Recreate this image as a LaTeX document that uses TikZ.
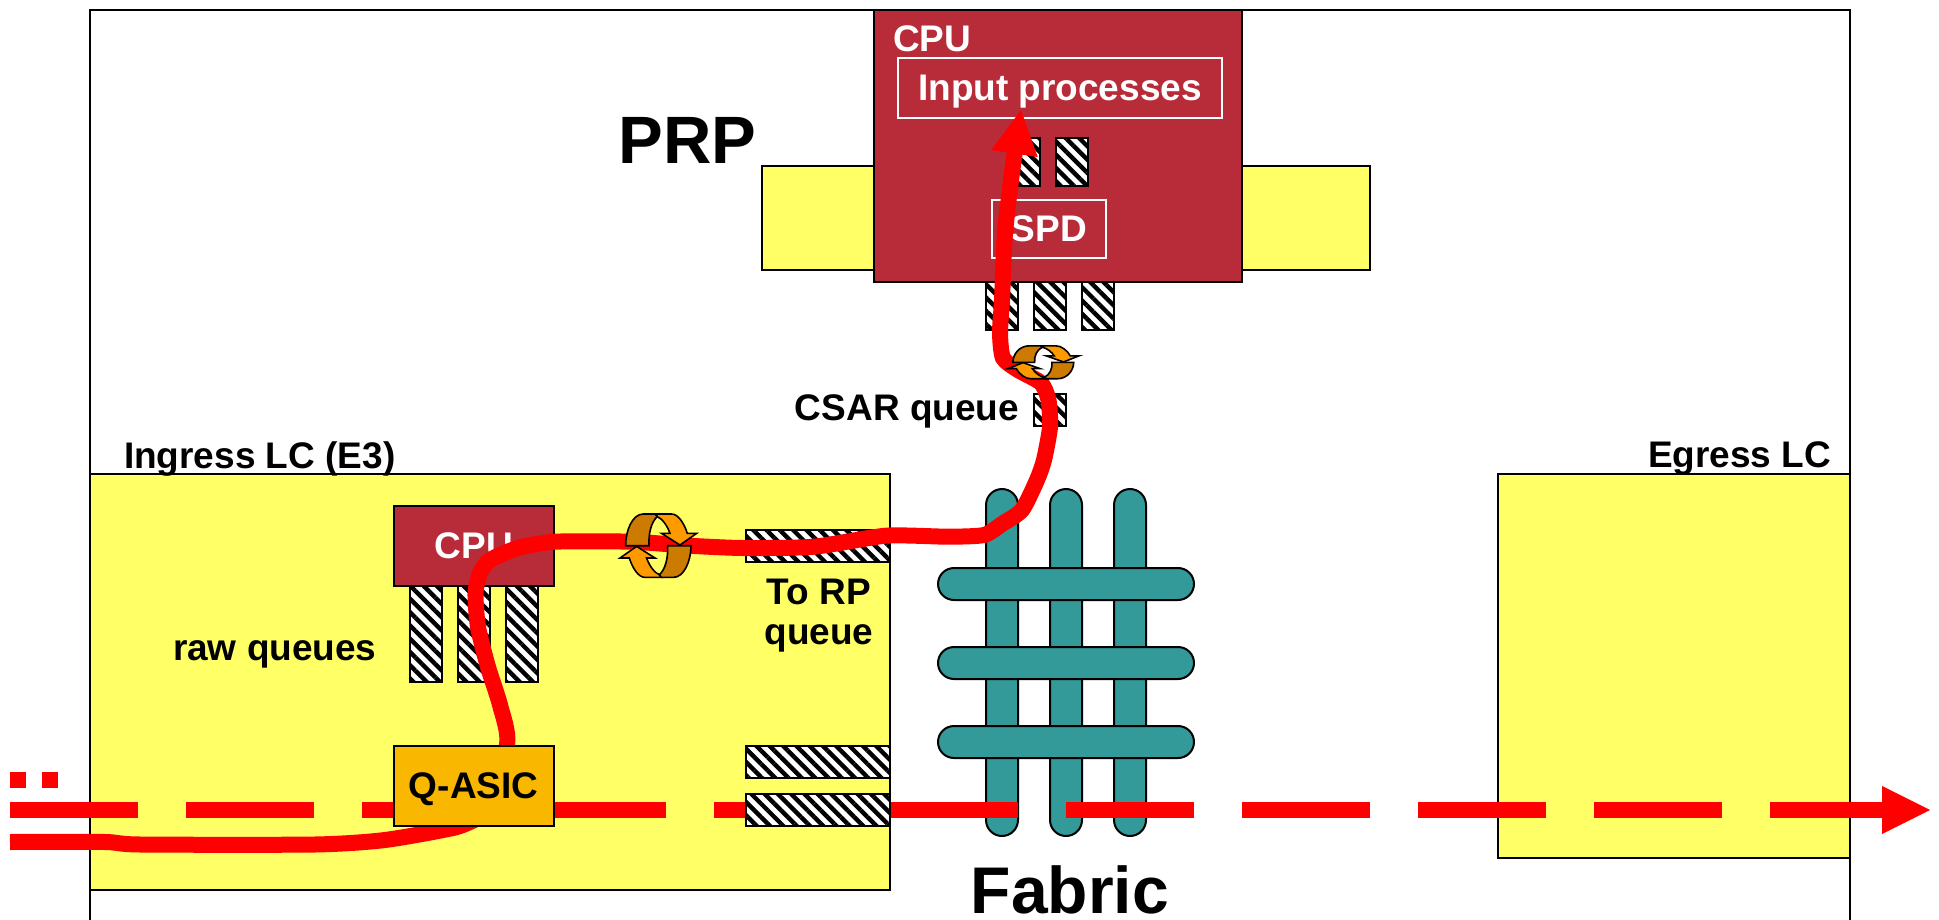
\documentclass[tikz,border=0pt]{standalone}
\usepackage{fontspec}
\setmainfont{Liberation Sans}
\definecolor{YellowCard}{HTML}{FFFF66}
\definecolor{RedCpu}{HTML}{B82C3A}
\definecolor{TealFabric}{HTML}{339999}
\definecolor{OrangeAsic}{HTML}{F9B700}
\definecolor{OrangeLight}{HTML}{FF9900}
\definecolor{OrangeDark}{HTML}{CC7A00}
\usetikzlibrary{arrows.meta}
\usetikzlibrary{patterns.meta}
\tikzset{
	box/.style={draw=black,line width=1pt,inner sep=0pt,outer sep=0pt},
	cardbox/.style={box,fill=YellowCard},
	cpubox/.style={box,fill=RedCpu,text=white},
	whitebox/.style={draw=white,line width=1pt,inner sep=0pt,outer sep=0pt,text=white},
	asicbox/.style={box,fill=OrangeAsic},
	fabricbar/.style={box,fill=TealFabric,rounded corners=8pt},
	queuebox/.style={box,preaction={fill=white},pattern={Lines[angle=-45,distance=4.7pt,line width=2.2pt]},pattern color=black},
	txt/.style={font=\bfseries\fontsize{18.5}{20}\selectfont,inner sep=0pt,outer sep=0pt,text depth=0pt},
	bigtxt/.style={font=\bfseries\fontsize{33}{36}\selectfont,inner sep=0pt,outer sep=0pt,text depth=0pt},
	redline/.style={draw=red,line width=8pt},
	rotator/.pic={
		\draw[line width=.8pt,fill=OrangeLight] (-3.3,-31.7) -- (13.3,-31.7) .. controls (20,-31.7) and (26,-22) .. (29,-12.3) -- (38.3,-12.3) -- (21.7,-.7) -- (3.3,-12.3) -- (11.7,-12.3) .. controls (9,-20) and (4,-27) .. (-1,-29) -- cycle;
		\draw[line width=.8pt,fill=OrangeDark] (-32.7,0) .. controls (-32.7,-15) and (-26,-31.7) .. (-15,-31.7) -- (-3.3,-31.7) -- (-1,-29) .. controls (-7,-24) and (-10,-12) .. (-9.3,0) -- cycle;
		\draw[line width=.8pt,fill=OrangeLight] (3.3,31.7) -- (-13.3,31.7) .. controls (-20,31.7) and (-26,22) .. (-29,12.3) -- (-38.3,12.3) -- (-21.7,.7) -- (-3.3,12.3) -- (-11.7,12.3) .. controls (-9,20) and (-4,27) .. (1,29) -- cycle;
		\draw[line width=.8pt,fill=OrangeDark] (32.7,0) .. controls (32.7,15) and (26,31.7) .. (15,31.7) -- (3.3,31.7) -- (1,29) .. controls (7,24) and (10,12) .. (9.3,0) -- cycle;
	}
}
\begin{document}
\begin{tikzpicture}[x=.5pt,y=-.5pt]
	\useasboundingbox (0,0) rectangle (1939,920);
	%frame
	\coordinate (framebl) at (90,920);
	\coordinate (frametl) at (90,10);
	\coordinate (frametr) at (1850,10);
	\coordinate (framebr) at (1850,920);
	\draw[line width=1pt] (framebl) -- (frametl) -- (frametr) -- (framebr);
	%line cards
	\node[cardbox,minimum width=400pt,minimum height=208pt] at (490,682) (ingress){};
	\node[cardbox,minimum width=176pt,minimum height=192pt] at (1674,666) (egress){};
	\node[txt,anchor=base west] at (124,468) (ingresstxt){Ingress LC (E3)};
	\node[txt,anchor=base east] at (1831,467) (egresstxt){Egress LC};
	%PRP
	\node[cardbox,minimum width=304pt,minimum height=52pt] at (1066,218) (prpcard){};
	\node[cpubox,minimum width=184pt,minimum height=136pt] at (1058,146) (prpcpu){};
	\node[txt,text=white,anchor=base west] at (893,52) (prpcputxt){CPU};
	\node[whitebox,txt,minimum width=162pt,minimum height=30pt] at (1060,88) (inputproc){Input processes};
	\node[whitebox,txt,minimum width=57pt,minimum height=29pt] at (1049,229) (spd){SPD};
	\node[font=\bfseries\fontsize{33.5}{36}\selectfont,inner sep=0pt,anchor=base west] at (618,163) (prptxt){PRP};
	%fabric
	\node[fabricbar,minimum width=16pt,minimum height=173.5pt] at (1002,662.5) (vbarA){};
	\node[fabricbar,minimum width=16pt,minimum height=173.5pt] at (1066,662.5) (vbarB){};
	\node[fabricbar,minimum width=16pt,minimum height=173.5pt] at (1130,662.5) (vbarC){};
	\node[fabricbar,minimum width=128pt,minimum height=16pt] at (1066,584) (hbarA){};
	\node[fabricbar,minimum width=128pt,minimum height=16pt] at (1066,663) (hbarB){};
	\node[fabricbar,minimum width=128pt,minimum height=16pt] at (1066,742) (hbarC){};
	\node[bigtxt,anchor=base] at (1070,913) (fabrictxt){Fabric};
	%dropped path
	\coordinate (passin) at (10,810);
	\coordinate (passout) at (1930,810);
	\coordinate (dotsin) at (10,780);
	\coordinate (dotsout) at (58,780);
	\draw[redline,dash pattern=on 8pt off 8pt] (dotsin) -- (dotsout);
	\draw[redline,dash pattern=on 64pt off 24pt,-{Triangle[length=24pt,width=24pt,line width=0pt]}] (passin) -- (passout);
	%queues
	\node[queuebox,minimum width=16pt,minimum height=24pt] at (1024,162) (spdqA){};
	\node[queuebox,minimum width=16pt,minimum height=24pt] at (1072,162) (spdqB){};
	\node[queuebox,minimum width=16pt,minimum height=24pt] at (1002,306) (prpqA){};
	\node[queuebox,minimum width=16pt,minimum height=24pt] at (1050,306) (prpqB){};
	\node[queuebox,minimum width=16pt,minimum height=24pt] at (1098,306) (prpqC){};
	\node[queuebox,minimum width=16pt,minimum height=16pt] at (1050,410) (csarq){};
	\node[txt,anchor=base east] at (1019,420) (csartxt){CSAR queue};
	\node[queuebox,minimum width=16pt,minimum height=48pt] at (426,634) (rawqA){};
	\node[queuebox,minimum width=16pt,minimum height=48pt] at (474,634) (rawqB){};
	\node[queuebox,minimum width=16pt,minimum height=48pt] at (522,634) (rawqC){};
	\node[txt,anchor=base west] at (173,660) (rawtxt){raw queues};
	\node[queuebox,minimum width=72pt,minimum height=16pt] at (818,546) (torpq){};
	\node[queuebox,minimum width=72pt,minimum height=16pt] at (818,762) (outqA){};
	\node[queuebox,minimum width=72pt,minimum height=16pt] at (818,810) (outqB){};
	\node[txt,align=center] at (819,612) (torptxt){To RP\\queue};
	%
	\node[cpubox,txt,minimum width=80pt,minimum height=40pt] at (473.7,546) (lccpu){CPU};
	%punted path
	\coordinate (puntin) at (10,842);
	\coordinate (asicpt) at (480,817);
	\coordinate (inputpt) at (1021,110);
	\draw[redline] plot[smooth,tension=.4] coordinates {(puntin) (105,842) (140,844.5) (315,844.5) (385,840) (455,827.5) (asicpt)};
	\draw[redline,-{Triangle[length=22pt,width=23.5pt,line width=0pt]}] plot[smooth,tension=.4] coordinates {(asicpt) (507,745) (500,705) (488,667) (478,627) (475.5,593) (480,573) (490,560) (518,548) (555,541.7) (631,541.7) (689,545.7) (743,548) (814,546.7) (886,535.7) (948,536.7) (984,535) (1002,524) (1022,510) (1037,480) (1044,460) (1050,427) (1048.5,400) (1041,383) (1018,370) (1003,358) (1000,333) (1002,300) (1005,233) (1013,165) (inputpt)};
	%
	\node[asicbox,txt,minimum width=80pt,minimum height=40pt] at (473.7,786) (qasic){Q-ASIC};
	\pic (rotlc) at (658.3,545.7) {rotator};
	\pic[xscale=.93,yscale=.52] (rotprp) at (1043.3,362.3) {rotator};
\end{tikzpicture}
\end{document}
